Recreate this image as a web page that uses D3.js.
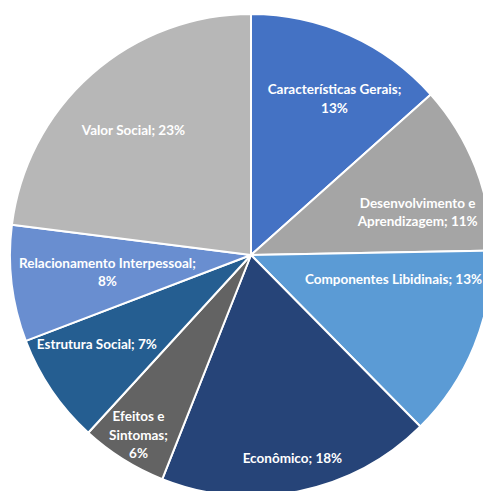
<!DOCTYPE html>
<html>
<head>
<meta charset="utf-8">
<script src="https://cdn.jsdelivr.net/npm/d3@7"></script>
<style>
  body { margin: 0; background: #fff; overflow: hidden; }
  .label { font-family: Lato, 'Open Sans', sans-serif; font-weight: bold; font-size: 13.5px; fill: #fff; }
</style>
</head>
<body>
<div id="chart"></div>
<script>
// data (percent of total)
const categories = ['Características Gerais', 'Desenvolvimento e Aprendizagem', 'Componentes Libidinais',
  'Econômico', 'Efeitos e Sintomas', 'Estrutura Social', 'Relacionamento Interpessoal', 'Valor Social']
const values = [13.4, 11.3, 12.9, 18.4, 5.8, 7.4, 7.8, 23.0]
const colors = ['#4472C4', '#A5A5A5', '#5B9BD5', '#264478', '#636363', '#255E91', '#698ED0', '#B7B7B7']

// label layout (radius as fraction of pie radius, angle nudge in degrees, wrap width)
const labelRadius = [0.735, 0.714, 0.6, 0.86, 0.88, 0.74, 0.6, 0.71]
const labelNudge = [4, 7, -12.4, 0, 0, 4, 0, -2]
const labelWrap = [140, 135, 300, 300, 70, 300, 185, 300]

const width = 483
const height = 491
const cx = 251
const cy = 255
const radius = 241

const svg = d3.select('#chart')
  .append('svg')
  .attr('width', width)
  .attr('height', height)

const g = svg.append('g')
  .attr('transform', `translate(${cx}, ${cy})`)

const total = d3.sum(values)
const data = categories.map((c, i) => ({ name: c, value: values[i], i }))

const pie = d3.pie().sort(null).value(d => d.value)
const arc = d3.arc().innerRadius(0).outerRadius(radius)

const arcs = pie(data)

g.selectAll('path')
  .data(arcs)
  .join('path')
  .attr('d', arc)
  .attr('fill', d => colors[d.data.i])
  .attr('stroke', '#fff')
  .attr('stroke-width', 2)
  .attr('stroke-linejoin', 'round')

/**
 * Splits a label into lines that fit the given width.
 */
function wrap (text, maxWidth, measure) {
  const words = text.split(' ')
  const lines = []
  let line = ''
  words.forEach(w => {
    const test = line ? line + ' ' + w : w
    if (line && measure(test) > maxWidth) {
      lines.push(line)
      line = w
    } else {
      line = test
    }
  })
  lines.push(line)
  return lines
}

const measurer = svg.append('text').attr('class', 'label').attr('opacity', 0)
const measure = s => { measurer.text(s); return measurer.node().getComputedTextLength() }

const lineH = 18.5

arcs.forEach(d => {
  const i = d.data.i
  const mid = (d.startAngle + d.endAngle) / 2 + labelNudge[i] * Math.PI / 180
  const r = radius * labelRadius[i]
  const x = Math.sin(mid) * r
  const y = -Math.cos(mid) * r
  const text = `${d.data.name}; ${Math.round(d.data.value / total * 100)}%`
  const lines = wrap(text, labelWrap[i], measure)
  const t = g.append('text')
    .attr('class', 'label')
    .attr('text-anchor', 'middle')
  lines.forEach((l, k) => {
    t.append('tspan')
      .attr('x', x)
      .attr('y', y + (k - (lines.length - 1) / 2) * lineH)
      .attr('dy', '0.35em')
      .text(l)
  })
})

measurer.remove()
</script>
</body>
</html>
